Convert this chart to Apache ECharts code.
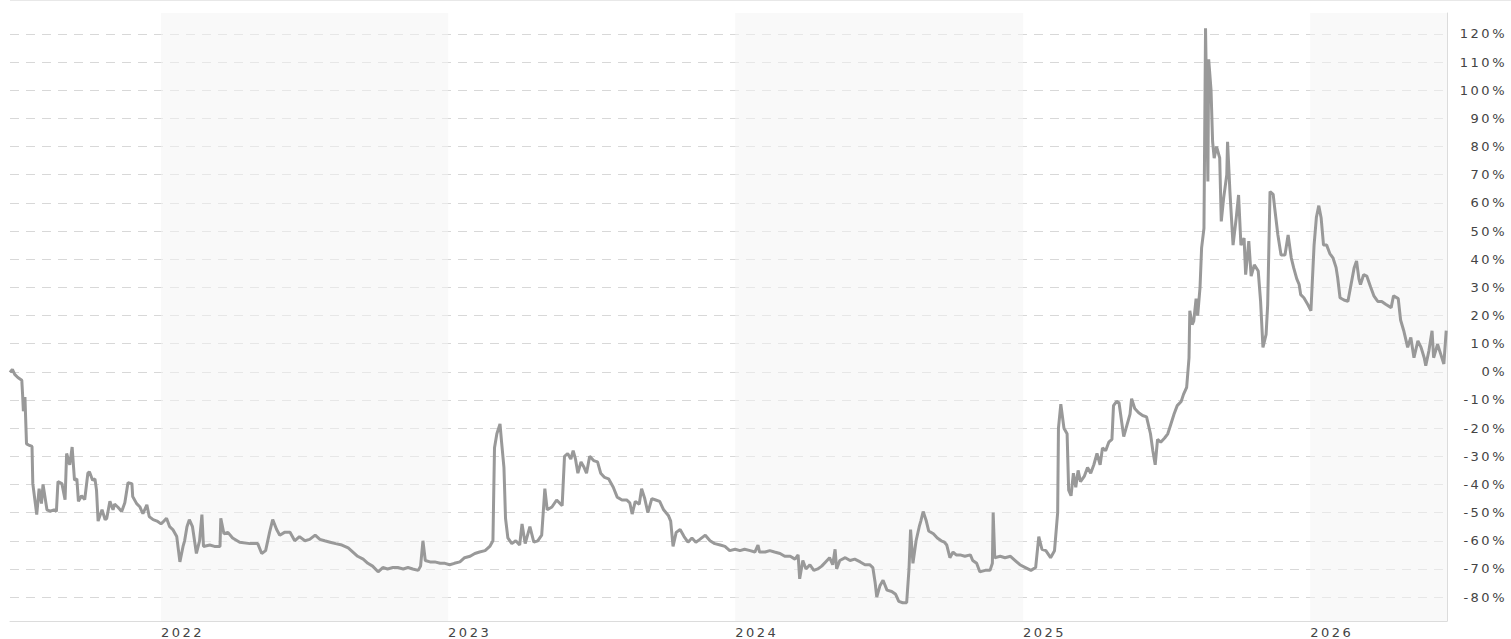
<!DOCTYPE html>
<html>
<head>
<meta charset="utf-8">
<script src="https://cdn.jsdelivr.net/npm/echarts@6/dist/echarts.min.js"></script>
<style>
  html, body { margin: 0; padding: 0; background: #fff; }
  #perfChart { width: 1511px; height: 639px; letter-spacing: 2.5px; }
</style>
</head>
<body>
<div id="perfChart"></div>
<script>
// performance in % vs. start, one list per year
const rows2021 = [
  ['2021-06-23', -0.2], ['2021-06-26', 0.9], ['2021-06-29', -0.9], ['2021-07-03', -2], ['2021-07-08', -3],
  ['2021-07-09', -8], ['2021-07-10', -14], ['2021-07-12', -9], ['2021-07-14', -25.6], ['2021-07-17', -26],
  ['2021-07-21', -26.5], ['2021-07-22', -39.7], ['2021-07-27', -50.7], ['2021-07-30', -41.5], ['2021-08-02', -46.8],
  ['2021-08-04', -40], ['2021-08-09', -49], ['2021-08-13', -49.5], ['2021-08-18', -49], ['2021-08-21', -49.6],
  ['2021-08-23', -39], ['2021-08-28', -39.7], ['2021-09-01', -45.4], ['2021-09-03', -29], ['2021-09-07', -33],
  ['2021-09-10', -26.7], ['2021-09-13', -38.5], ['2021-09-16', -38], ['2021-09-18', -46], ['2021-09-22', -44],
  ['2021-09-26', -45.4], ['2021-09-30', -36], ['2021-10-02', -35.5], ['2021-10-06', -38.5], ['2021-10-09', -38],
  ['2021-10-11', -42], ['2021-10-13', -53], ['2021-10-18', -49], ['2021-10-22', -52.5], ['2021-10-24', -52],
  ['2021-10-28', -46], ['2021-11-01', -49], ['2021-11-03', -47], ['2021-11-07', -48], ['2021-11-12', -49.6],
  ['2021-11-16', -46.5], ['2021-11-20', -39.4], ['2021-11-25', -39.7], ['2021-11-26', -44.3], ['2021-12-01', -46.8],
  ['2021-12-05', -47.9], ['2021-12-09', -50.4], ['2021-12-14', -47.2], ['2021-12-17', -51.4], ['2021-12-22', -52.5],
  ['2021-12-27', -53]
];
const rows2022 = [
  ['2022-01-01', -54], ['2022-01-03', -53.5], ['2022-01-08', -52], ['2022-01-12', -55], ['2022-01-16', -56],
  ['2022-01-21', -58.5], ['2022-01-25', -67.5], ['2022-01-29', -62], ['2022-01-31', -60], ['2022-02-03', -55],
  ['2022-02-06', -52.5], ['2022-02-10', -55], ['2022-02-15', -64.5], ['2022-02-19', -60], ['2022-02-22', -50.7],
  ['2022-02-24', -62], ['2022-03-04', -61.5], ['2022-03-10', -62], ['2022-03-17', -62], ['2022-03-18', -52],
  ['2022-03-22', -57.5], ['2022-03-27', -57], ['2022-04-02', -59], ['2022-04-11', -60.5], ['2022-04-24', -61],
  ['2022-05-04', -61], ['2022-05-09', -64.5], ['2022-05-14', -63.5], ['2022-05-19', -57], ['2022-05-23', -52.5],
  ['2022-05-28', -56], ['2022-06-01', -58], ['2022-06-07', -57], ['2022-06-14', -57], ['2022-06-20', -60],
  ['2022-06-26', -58.5], ['2022-07-03', -60], ['2022-07-09', -59.5], ['2022-07-16', -58], ['2022-07-22', -59.5],
  ['2022-07-28', -60], ['2022-08-04', -60.5], ['2022-08-11', -61], ['2022-08-19', -61.5], ['2022-08-27', -62.5],
  ['2022-09-02', -64], ['2022-09-08', -65.5], ['2022-09-15', -66.5], ['2022-09-21', -68], ['2022-09-27', -69],
  ['2022-10-04', -71], ['2022-10-10', -69.5], ['2022-10-16', -70], ['2022-10-23', -69.5], ['2022-10-29', -69.5],
  ['2022-11-05', -70], ['2022-11-11', -69.5], ['2022-11-17', -70], ['2022-11-24', -70.5], ['2022-11-27', -69],
  ['2022-11-30', -60], ['2022-12-03', -67], ['2022-12-09', -67.5], ['2022-12-15', -67.5], ['2022-12-22', -68],
  ['2022-12-28', -68]
];
const rows2023 = [
  ['2023-01-03', -68.5], ['2023-01-09', -68], ['2023-01-16', -67.5], ['2023-01-22', -66], ['2023-01-29', -65.5],
  ['2023-02-04', -64.5], ['2023-02-10', -64], ['2023-02-17', -63.5], ['2023-02-23', -62], ['2023-02-27', -60],
  ['2023-03-01', -27], ['2023-03-04', -22], ['2023-03-08', -18.5], ['2023-03-10', -25], ['2023-03-13', -34],
  ['2023-03-15', -52], ['2023-03-18', -59], ['2023-03-23', -61], ['2023-03-28', -60], ['2023-04-02', -61.5],
  ['2023-04-05', -54], ['2023-04-09', -61], ['2023-04-15', -55], ['2023-04-20', -60.5], ['2023-04-25', -60],
  ['2023-04-30', -58], ['2023-05-04', -41.5], ['2023-05-07', -49], ['2023-05-13', -48], ['2023-05-19', -45.5],
  ['2023-05-26', -47.5], ['2023-05-29', -30], ['2023-06-02', -29], ['2023-06-06', -31], ['2023-06-09', -28],
  ['2023-06-12', -31], ['2023-06-15', -36], ['2023-06-19', -32], ['2023-06-23', -34], ['2023-06-26', -36],
  ['2023-06-30', -30], ['2023-07-05', -31.5], ['2023-07-10', -32], ['2023-07-14', -36], ['2023-07-19', -37.5],
  ['2023-07-24', -38], ['2023-07-30', -41], ['2023-08-04', -44.5], ['2023-08-10', -45.5], ['2023-08-16', -45.5],
  ['2023-08-20', -46.5], ['2023-08-23', -50.5], ['2023-08-27', -46], ['2023-09-01', -47], ['2023-09-04', -41.5],
  ['2023-09-08', -45], ['2023-09-12', -50], ['2023-09-17', -45], ['2023-09-22', -45.5], ['2023-09-27', -46],
  ['2023-10-02', -49], ['2023-10-08', -51], ['2023-10-11', -53], ['2023-10-14', -62], ['2023-10-18', -57],
  ['2023-10-23', -56], ['2023-10-28', -58.5], ['2023-11-02', -60.5], ['2023-11-07', -59], ['2023-11-12', -60.5],
  ['2023-11-17', -59.5], ['2023-11-24', -58], ['2023-11-30', -60], ['2023-12-06', -61], ['2023-12-13', -61.5],
  ['2023-12-19', -62], ['2023-12-25', -63.5]
];
const rows2024 = [
  ['2024-01-01', -63], ['2024-01-07', -63.5], ['2024-01-13', -63], ['2024-01-20', -63.5], ['2024-01-26', -64],
  ['2024-01-30', -61.5], ['2024-02-01', -64], ['2024-02-08', -64], ['2024-02-14', -63.5], ['2024-02-20', -64],
  ['2024-02-27', -64.5], ['2024-03-04', -65.5], ['2024-03-11', -65.5], ['2024-03-17', -66.5], ['2024-03-21', -65],
  ['2024-03-23', -73.5], ['2024-03-27', -67], ['2024-03-31', -70], ['2024-04-05', -68.5], ['2024-04-10', -70.5],
  ['2024-04-15', -70], ['2024-04-20', -69], ['2024-04-25', -67.5], ['2024-04-30', -66], ['2024-05-04', -68.5],
  ['2024-05-07', -63], ['2024-05-09', -70], ['2024-05-13', -67], ['2024-05-20', -66], ['2024-05-26', -67],
  ['2024-06-01', -66.5], ['2024-06-08', -67.5], ['2024-06-14', -68.5], ['2024-06-20', -68.5], ['2024-06-24', -69.5],
  ['2024-06-27', -75], ['2024-06-29', -80], ['2024-07-03', -76], ['2024-07-07', -74], ['2024-07-12', -77.5],
  ['2024-07-18', -78], ['2024-07-23', -79], ['2024-07-27', -81.5], ['2024-08-01', -82], ['2024-08-06', -82],
  ['2024-08-09', -70], ['2024-08-11', -56], ['2024-08-14', -68], ['2024-08-18', -60], ['2024-08-22', -55],
  ['2024-08-24', -53], ['2024-08-27', -49.6], ['2024-08-31', -53], ['2024-09-03', -56.5], ['2024-09-09', -57.5],
  ['2024-09-14', -59], ['2024-09-19', -60], ['2024-09-23', -60.5], ['2024-09-26', -61.5], ['2024-09-30', -66],
  ['2024-10-04', -64], ['2024-10-08', -65], ['2024-10-13', -65], ['2024-10-19', -65.5], ['2024-10-26', -65],
  ['2024-10-29', -67], ['2024-11-03', -68], ['2024-11-07', -71], ['2024-11-14', -70.5], ['2024-11-20', -70.5],
  ['2024-11-23', -68], ['2024-11-24', -50], ['2024-11-26', -66], ['2024-12-03', -65.5], ['2024-12-09', -66],
  ['2024-12-16', -65.5], ['2024-12-22', -67], ['2024-12-28', -68.5]
];
const rows2025 = [
  ['2025-01-04', -69.5], ['2025-01-11', -70.5], ['2025-01-17', -69.5], ['2025-01-21', -58.5], ['2025-01-25', -63],
  ['2025-01-30', -63.5], ['2025-02-05', -66], ['2025-02-10', -63.5], ['2025-02-14', -50], ['2025-02-15', -20],
  ['2025-02-18', -11.5], ['2025-02-22', -20], ['2025-02-26', -22], ['2025-02-28', -42], ['2025-03-03', -44],
  ['2025-03-06', -36], ['2025-03-09', -41], ['2025-03-12', -35], ['2025-03-15', -39], ['2025-03-20', -37],
  ['2025-03-24', -34], ['2025-03-28', -36], ['2025-04-01', -33], ['2025-04-05', -29], ['2025-04-09', -33],
  ['2025-04-12', -27], ['2025-04-16', -28], ['2025-04-20', -25], ['2025-04-24', -24], ['2025-04-26', -12],
  ['2025-04-30', -10.5], ['2025-05-03', -11], ['2025-05-07', -19], ['2025-05-09', -23], ['2025-05-13', -19],
  ['2025-05-17', -15], ['2025-05-19', -9.5], ['2025-05-23', -13], ['2025-05-28', -14.5], ['2025-06-02', -15.5],
  ['2025-06-07', -16], ['2025-06-12', -22], ['2025-06-15', -28], ['2025-06-18', -33], ['2025-06-21', -24],
  ['2025-06-25', -25], ['2025-06-30', -23.5], ['2025-07-04', -22], ['2025-07-08', -18.5], ['2025-07-12', -15],
  ['2025-07-16', -12], ['2025-07-21', -10.5], ['2025-07-24', -8], ['2025-07-28', -5.5], ['2025-07-31', 5],
  ['2025-08-01', 21.7], ['2025-08-04', 16.8], ['2025-08-06', 18], ['2025-08-09', 26], ['2025-08-11', 20],
  ['2025-08-14', 30], ['2025-08-16', 44], ['2025-08-19', 51], ['2025-08-21', 122], ['2025-08-24', 67.6],
  ['2025-08-25', 111], ['2025-08-28', 100], ['2025-08-30', 81.7], ['2025-09-01', 75.9], ['2025-09-04', 80],
  ['2025-09-08', 76], ['2025-09-10', 53.4], ['2025-09-13', 61.6], ['2025-09-17', 70], ['2025-09-18', 81.7],
  ['2025-09-21', 64], ['2025-09-25', 45], ['2025-09-29', 54.6], ['2025-10-02', 62.8], ['2025-10-05', 45],
  ['2025-10-09', 47.5], ['2025-10-11', 34.5], ['2025-10-15', 46.4], ['2025-10-18', 34], ['2025-10-22', 38],
  ['2025-10-27', 35.8], ['2025-10-30', 25], ['2025-11-02', 8.7], ['2025-11-06', 13.3], ['2025-11-08', 23.8],
  ['2025-11-11', 64], ['2025-11-15', 63], ['2025-11-17', 58], ['2025-11-21', 48.6], ['2025-11-25', 41.5],
  ['2025-11-30', 41.5], ['2025-12-04', 48.6], ['2025-12-08', 40.5], ['2025-12-11', 37], ['2025-12-15', 33],
  ['2025-12-18', 31], ['2025-12-20', 27.4], ['2025-12-24', 26.3], ['2025-12-29', 23.9]
];
const rows2026 = [
  ['2026-01-02', 21.7], ['2026-01-06', 45], ['2026-01-09', 55], ['2026-01-12', 59], ['2026-01-15', 54.6],
  ['2026-01-18', 45], ['2026-01-22', 45], ['2026-01-26', 42], ['2026-01-30', 40.5], ['2026-02-03', 37],
  ['2026-02-05', 33.4], ['2026-02-08', 26.3], ['2026-02-13', 25.5], ['2026-02-18', 25], ['2026-02-22', 31],
  ['2026-02-26', 37], ['2026-03-01', 39.4], ['2026-03-04', 33], ['2026-03-06', 31], ['2026-03-10', 34.5],
  ['2026-03-14', 34], ['2026-03-19', 30], ['2026-03-23', 27], ['2026-03-28', 25], ['2026-04-02', 25],
  ['2026-04-07', 24], ['2026-04-14', 22.8], ['2026-04-17', 27], ['2026-04-23', 26], ['2026-04-26', 18.4],
  ['2026-04-30', 14.6], ['2026-05-05', 8.7], ['2026-05-09', 12.2], ['2026-05-13', 5], ['2026-05-18', 11],
  ['2026-05-22', 8.7], ['2026-05-26', 5], ['2026-05-28', 2.2], ['2026-06-01', 7.5], ['2026-06-05', 14.6],
  ['2026-06-07', 5], ['2026-06-12', 9.8], ['2026-06-16', 6.3], ['2026-06-20', 2.8], ['2026-06-23', 14.6]
];

const xStart = '2021-06-23';
const xEnd = '2026-06-24';
const shadedYears = [['2022-01-01', '2023-01-01'], ['2024-01-01', '2025-01-01'], ['2026-01-01', xEnd]];
const pctTicks = [-80, -70, -60, -50, -40, -30, -20, -10, 0, 10, 20, 30, 40, 50, 60, 70, 80, 90, 100, 110, 120];

const allRows = [].concat(rows2021, rows2022, rows2023, rows2024, rows2025, rows2026);

const chart = echarts.init(document.getElementById('perfChart'), null, { renderer: 'svg' });

const labelFont = { fontFamily: 'DejaVu Sans', fontSize: 13, color: '#444' };
const oneYear = 365 * 24 * 3600 * 1000;

const option = {
  animation: false,
  grid: { left: 10, right: 64, top: 13, bottom: 15 },
  graphic: [{
    type: 'line',
    shape: { x1: 10, y1: 0.5, x2: 1511, y2: 0.5 },
    style: { stroke: '#e8e8e8', lineWidth: 1 }
  }],
  xAxis: {
    type: 'time',
    min: xStart,
    max: xEnd,
    splitNumber: 5,
    minInterval: oneYear,
    axisLine: { onZero: false, lineStyle: { color: '#dcdcdc', width: 1 } },
    axisTick: { show: false },
    splitLine: { show: false },
    axisLabel: Object.assign({}, labelFont, {
      align: 'left',
      margin: 5,
      showMinLabel: false,
      showMaxLabel: false,
      formatter: function (v) {
        const d = new Date(v);
        return (d.getMonth() === 0 && d.getDate() === 1) ? String(d.getFullYear()) : '';
      }
    })
  },
  yAxis: {
    type: 'value',
    position: 'right',
    min: -88.48,
    max: 127.42,
    axisLine: { show: true, lineStyle: { color: '#dcdcdc', width: 1 } },
    axisTick: { show: false, customValues: pctTicks },
    axisLabel: Object.assign({}, labelFont, {
      customValues: pctTicks,
      align: 'right',
      margin: 60,
      padding: [3, 0, 0, 0],
      formatter: '{value}%'
    }),
    splitLine: { show: true, lineStyle: { color: '#d8d8d8', type: [9, 7], width: 1 } }
  },
  series: [
    {
      // year shading, sits over the grid lines but under the price line
      type: 'line',
      z: 1,
      silent: true,
      showSymbol: false,
      data: allRows,
      lineStyle: { opacity: 0 },
      markArea: {
        silent: true,
        itemStyle: { color: 'rgba(244,244,244,0.55)' },
        data: shadedYears.map(b => [{ xAxis: b[0] }, { xAxis: b[1] }])
      }
    },
    {
      type: 'line',
      z: 3,
      data: allRows,
      showSymbol: false,
      lineStyle: { color: '#999999', width: 3 },
      itemStyle: { color: '#999999' }
    }
  ]
};

chart.setOption(option);
</script>
</body>
</html>
